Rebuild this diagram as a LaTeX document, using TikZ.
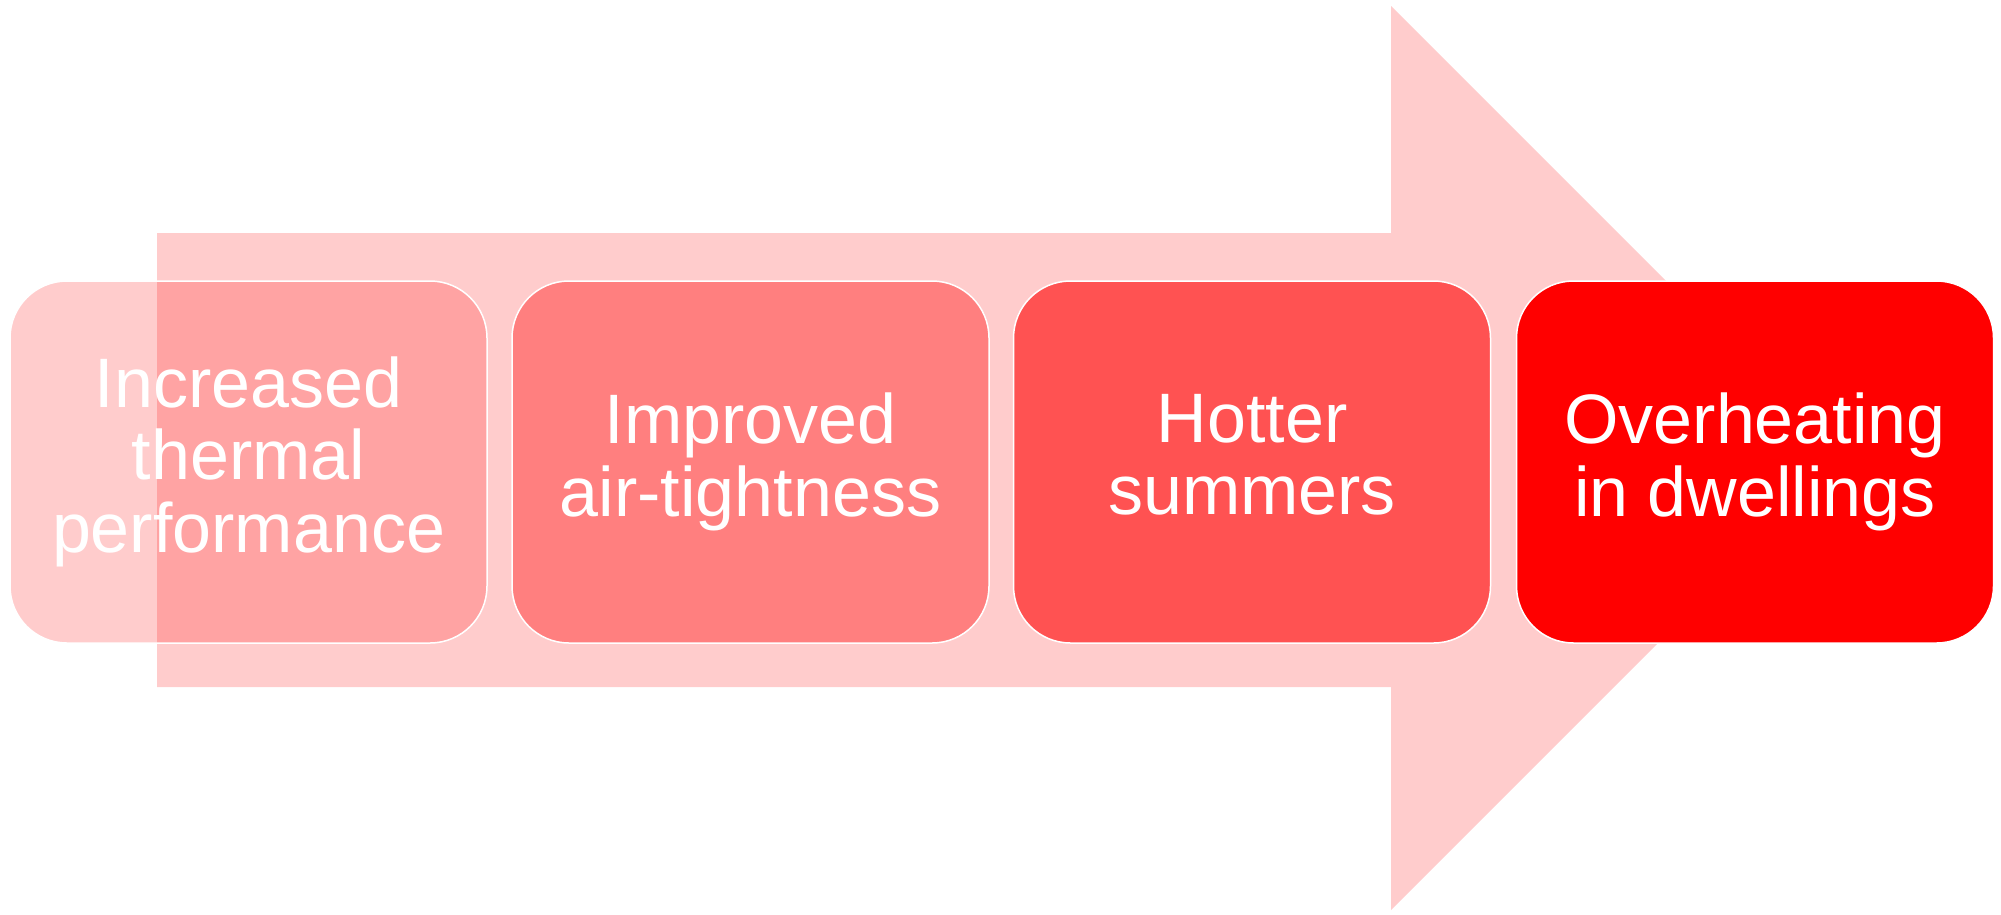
\documentclass[tikz,border=0pt]{standalone}
\usepackage{fontspec}
\setmainfont{Liberation Sans}
\definecolor{arrowpink}{RGB}{255,204,204}
\definecolor{boxB}{RGB}{255,127,127}
\definecolor{boxC}{RGB}{255,82,82}
\definecolor{boxD}{RGB}{255,0,0}
\newcommand\lstrut{\rule[-15pt]{0pt}{55pt}}
\tikzset{
  stagebox/.style={draw=white, line width=1.5pt, rounded corners=57pt,
    minimum width=477pt, minimum height=362pt, inner sep=0pt,
    align=center, text=white, text opacity=1,
    font=\fontsize{70}{72.5}\selectfont}
}
\begin{document}
\begin{tikzpicture}[x=1pt,y=-1pt]
\useasboundingbox (0,0) rectangle (2001,914);
\fill[arrowpink] (157,233) -- (1391,233) -- (1391,6) -- (1843,458) -- (1391,910) -- (1391,687) -- (157,687) -- cycle;
\node[stagebox, fill=red, fill opacity=0.2] (b1) at (248.5,462) {\lstrut Increased\\\lstrut thermal\\\lstrut performance};
\node[stagebox, fill=boxB] (b2) at (750.5,462) {\lstrut Improved\\\lstrut air-tightness};
\node[stagebox, fill=boxC] (b3) at (1252,462) {\lstrut Hotter\\\lstrut summers};
\node[stagebox, fill=boxD] (b4) at (1755,462) {\lstrut Overheating\\\lstrut in dwellings};
\end{tikzpicture}
\end{document}
